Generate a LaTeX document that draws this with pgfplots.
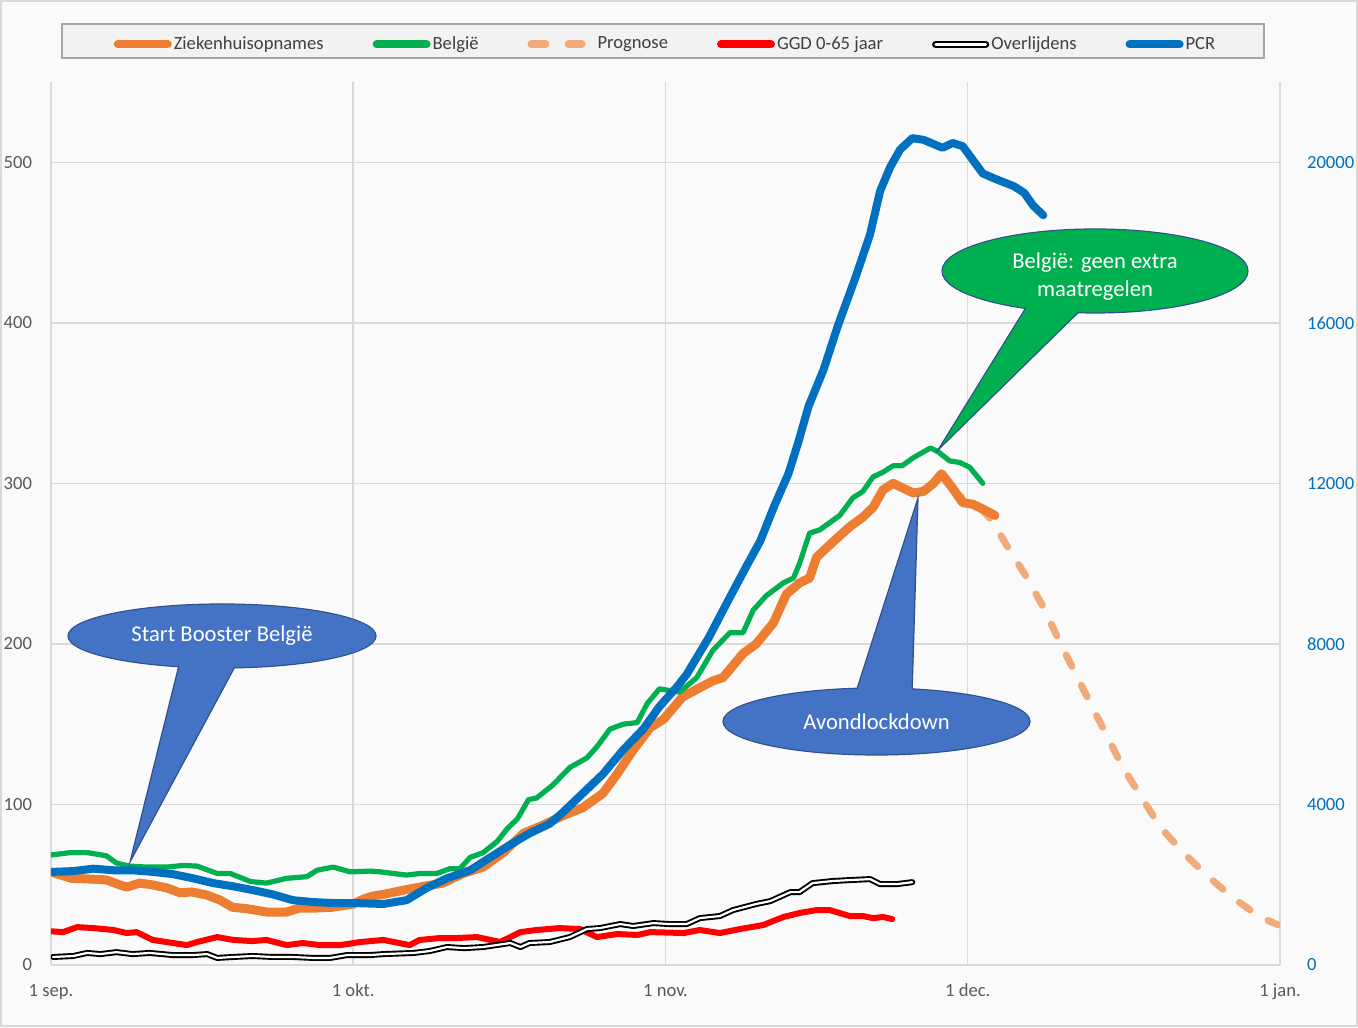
\documentclass[border=0pt]{standalone}
\usepackage{fontspec}
\setmainfont{Carlito}
\usepackage{pgfplots}
\pgfplotsset{compat=1.18}
\definecolor{cOrange}{HTML}{ED7D31}
\definecolor{cGreen}{HTML}{00B050}
\definecolor{cBlue}{HTML}{0070C0}
\definecolor{cRed}{HTML}{FF0000}
\definecolor{cProg}{HTML}{F1AB7A}
\definecolor{cGrid}{HTML}{D9D9D9}
\definecolor{cTick}{HTML}{595959}
\definecolor{cLegText}{HTML}{404040}
\definecolor{cBg}{HTML}{FAFAFA}
\definecolor{cCallBlue}{HTML}{4472C4}
\definecolor{cCallEdge}{HTML}{2F528F}
\definecolor{cLegFill}{HTML}{F2F2F2}
\definecolor{cLegEdge}{HTML}{A6A6A6}
\begin{document}
\begin{tikzpicture}
\useasboundingbox (-25.5pt,-31pt) rectangle (653.5pt,482.5pt);
\fill[cBg] (-25.5pt,-31pt) rectangle (653.5pt,482.5pt);
\draw[cGrid, line width=0.8pt] (-25.1pt,-30.6pt) rectangle (653.1pt,482.1pt);
\filldraw[fill=cLegFill, draw=cLegEdge, line width=1pt] (5.5pt,453.5pt) rectangle (606.5pt,470.5pt);
\begin{axis}[
  at={(0pt,0pt)}, anchor=south west,
  scale only axis, width=614.5pt, height=441.5pt,
  xmin=0, xmax=122, ymin=0, ymax=550,
  axis line style={draw=none}, major tick length=0pt,
  xtick={0,30,61,91,122},
  xticklabels={1 sep., 1 okt., 1 nov., 1 dec., 1 jan.},
  ytick={0,100,200,300,400,500},
  grid=major, major grid style={cGrid, line width=0.75pt},
  tick label style={font=\fontsize{9.3}{11}\selectfont, text=cTick},
  /pgf/number format/assume math mode=true,
  xticklabel style={yshift=-6pt},
  yticklabel style={xshift=-6pt},
  legend columns=6,
  legend style={at={(0.5,1.0425)}, anchor=center, draw=none, fill=none,
    font=\fontsize{9.3}{11}\selectfont, text=cLegText, nodes={inner sep=1pt},
    /tikz/every even column/.append style={column sep=23.5pt}},
  legend image code/.code={\draw[#1] (2pt,0pt) -- (27pt,0pt);},
  every axis plot/.append style={line join=round, line cap=round},
]
% Prognose
\addplot[cProg, line width=3.5pt, dash pattern=on 6.5pt off 10.5pt, forget plot] coordinates {
(89.5,296) (91,288) (92.5,283) (93.4,277) (94.9,261) (96.7,243) (98.5,223) (100,203)
(101.5,184) (103.1,164) (104.8,143) (106.4,123) (108.3,104) (110.1,86) (112.4,70)
(114.7,56) (117.3,42) (120,30) (121.8,25)};
% Ziekenhuisopnames
\addplot[cOrange, line width=4.5pt, forget plot] coordinates {
(0,58) (2,54) (4,53.5) (5.5,53) (6.8,50) (7.5,48.5) (8.8,51) (10,50) (11.5,48) (12.8,45)
(14,45.5) (15.5,43.5) (16.8,40.4) (18,36) (19.5,35) (21.4,33) (23.4,33) (24.7,35.5)
(26.4,35.5) (28,36) (30,38) (31,41) (32,43) (33,44) (35.3,47) (37,49) (38.9,51) (40.9,57)
(42.9,61) (44.9,70) (46.9,82) (48.8,87) (50.8,93) (52.8,98) (54.8,107) (56.2,119)
(57.8,134) (59.5,148) (60.8,153) (62.7,167) (65.7,177) (66.7,179) (68.7,194) (70,200)
(71.7,213) (73,231) (74.3,238) (75.3,241) (76,254) (77.7,264) (79.3,273) (80.6,279)
(81.6,285) (82.6,296) (83.6,300) (85.6,294) (86.6,295) (87.6,300) (88.4,306) (89.5,297)
(90.5,288) (91.5,287) (92.5,284) (93.7,280)};
% Belgie
\addplot[cGreen, line width=2.6pt, forget plot] coordinates {
(0,68.5) (1.9,70) (3.6,70) (5.5,68) (6.5,63.5) (7.8,61.6) (9.5,61) (11.5,61) (13.1,62)
(14.5,61.6) (16.5,57) (17.8,57) (19.8,52) (21.4,51) (23.4,54) (25.4,55) (26.4,59) (28,61)
(29.7,58) (31.7,58.5) (32.7,58) (35.3,56) (36.6,57) (38.3,57) (39.6,60) (40.6,60)
(41.6,67) (42.9,70) (44.3,77) (45.3,85) (46.3,91) (47.4,103) (48.2,104) (49.8,112)
(51.5,123) (53.2,129) (54.2,136) (55.5,147) (56.8,150) (58.2,151) (59.2,163) (60.4,172)
(62.4,170) (64.1,179) (65.7,196) (67.4,207) (68.7,207) (69.7,221) (71,230) (72.7,238)
(73.7,241) (74.3,250) (75.3,269) (76.3,271) (78.3,280) (79.6,291) (80.6,295) (81.6,304)
(82.6,307) (83.6,311) (84.5,311) (85.6,316) (87.3,322) (88,320) (89.2,314) (90.2,313)
(91.2,310) (92.5,300)};
% GGD 0-65
\addplot[cRed, line width=3pt, forget plot] coordinates {
(0,21) (1.2,20.5) (2.6,23.6) (4.2,23) (6.2,21.8) (7.5,19.9) (8.5,20.5) (10.1,15.6)
(12.1,13.7) (13.5,12.4) (14.5,14.3) (16.5,17.4) (18.1,15.6) (20,14.9) (21.4,15.6)
(23.4,12.4) (25,13.7) (26.7,12.4) (28.7,12.4) (30.7,14.3) (33,15.6) (35.6,12.4)
(36.6,15.6) (38.6,16.8) (40.3,16.8) (42.3,17.4) (44.6,14.3) (46.6,20.5) (48.2,21.8)
(50.5,23) (52.5,22.4) (54.2,17.4) (56.2,19.3) (58.2,18.7) (59.5,20.5) (62.8,19.9)
(64.4,21.8) (66.4,19.9) (68.4,22.4) (70.7,24.9) (72.7,29.9) (74.3,32.4) (76,34.2)
(77.3,34.2) (79.3,30.5) (80.6,30.5) (81.6,29.2) (82.6,29.9) (83.5,28.6)};
% Overlijdens
\addplot[black, line width=0.95pt, double=white, double distance=1.1pt, forget plot] coordinates {
(0.2,5) (2.2,5.6) (3.6,7.5) (4.9,6.8) (6.5,8) (8.1,6.8) (9.8,7.5) (12.1,6.2) (14.1,6.2)
(15.5,6.8) (16.5,4.4) (18.1,5) (20,5.6) (22,5) (24,5) (26,4.4) (27.7,4.4) (29.4,6.2)
(31.7,6.2) (33,6.8) (36,7.5) (37.6,8.7) (39.3,11.2) (41,10.5) (42.9,11.2) (45.6,13.7)
(46.6,11.2) (47.5,13.7) (49.5,14.3) (51.5,17.4) (53.2,22.4) (54.5,23) (56.5,25.5)
(57.8,24.3) (59.8,26.1) (61.4,25.5) (63.1,25.5) (64.4,29.2) (66.4,30.5) (67.7,34.2)
(70,38) (71.4,39.8) (73.4,45.4) (74.3,45.4) (75.6,51) (77.6,52.3) (79.3,52.9) (81.3,53.5)
(82.3,50.4) (84,50.4) (85.5,51.6)};
\addlegendimage{cOrange, line width=4pt, line cap=round}
\addlegendentry{Ziekenhuisopnames}
\addlegendimage{cGreen, line width=4pt, line cap=round}
\addlegendentry{België}
\addlegendimage{cProg, line width=4pt, line cap=round, dash pattern=on 7pt off 11.5pt}
\addlegendentry{\hspace{5pt}Prognose}
\addlegendimage{cRed, line width=4pt, line cap=round}
\addlegendentry{GGD 0-65 jaar}
\addlegendimage{black, line width=1.1pt, double=white, double distance=1.4pt, line cap=round}
\addlegendentry{Overlijdens}
\addlegendimage{cBlue, line width=4pt, line cap=round}
\addlegendentry{PCR}
\end{axis}
\begin{axis}[
  at={(0pt,0pt)}, anchor=south west,
  scale only axis, width=614.5pt, height=441.5pt,
  xmin=0, xmax=122, ymin=0, ymax=22000,
  axis x line=none, axis y line*=right,
  axis line style={draw=none}, major tick length=0pt,
  ytick={0,4000,8000,12000,16000,20000},
  scaled y ticks=false,
  yticklabel style={font=\fontsize{9.3}{11}\selectfont, text=cBlue, xshift=10pt},
  /pgf/number format/.cd, 1000 sep={}, assume math mode=true,
]
% PCR
\addplot[cBlue, line width=4pt, line join=round, line cap=round] coordinates {
(0.2,2320) (2.2,2340) (4.2,2400) (6.2,2360) (8.1,2360) (10.1,2320) (12.1,2264) (14.1,2160)
(16.1,2040) (18.1,1960) (20,1868) (22,1760) (24,1616) (26,1568) (28,1544) (30,1544)
(33,1520) (35.3,1616) (37.3,1920) (39.3,2160) (41.6,2360) (43.6,2680) (45.6,3000)
(47.5,3280) (49.5,3520) (50.8,3800) (52.8,4280) (54.8,4760) (56.8,5360) (58.8,5880)
(60.4,6440) (62.1,6920) (63.1,7240) (65.3,8160) (67.3,9120) (69,9920) (70.4,10560)
(71.8,11440) (73.2,12240) (74.2,13040) (75.2,13920) (76.7,14840) (78.1,15920)
(79.9,17160) (81.3,18200) (82.3,19280) (83.3,19880) (84.3,20320) (85.5,20600)
(86.6,20560) (88.5,20360) (89.5,20480) (90.5,20400) (92.5,19720) (93.6,19600)
(95.6,19400) (96.6,19240) (97.5,18920) (98.5,18680)};
\end{axis}
% callout 1
\filldraw[fill=cCallBlue, draw=cCallEdge, line width=0.6pt] (85.5pt,164.5pt) ellipse [x radius=77pt, y radius=16pt];
\filldraw[fill=cCallBlue, draw=cCallEdge, line width=0.6pt] (64.5pt,152pt) -- (39.5pt,51.5pt) -- (93.5pt,152pt) -- cycle;
\fill[cCallBlue] (85.5pt,164.5pt) ellipse [x radius=76.5pt, y radius=15.5pt];
\node[text=white, font=\fontsize{11.3}{14}\selectfont] at (85.5pt,164.5pt) {Start Booster België};
% callout 2
\filldraw[fill=cCallBlue, draw=cCallEdge, line width=0.6pt] (412.75pt,121.75pt) ellipse [x radius=76.75pt, y radius=16.75pt];
\filldraw[fill=cCallBlue, draw=cCallEdge, line width=0.6pt] (402pt,135pt) -- (433.5pt,233.5pt) -- (430.5pt,135pt) -- cycle;
\fill[cCallBlue] (412.75pt,121.75pt) ellipse [x radius=76.25pt, y radius=16.25pt];
\node[text=white, font=\fontsize{11.3}{14}\selectfont] at (412.75pt,121.75pt) {Avondlockdown};
% callout 3
\filldraw[fill=cGreen, draw=cCallEdge, line width=0.6pt] (522pt,347pt) ellipse [x radius=76.5pt, y radius=21pt];
\filldraw[fill=cGreen, draw=cCallEdge, line width=0.6pt] (489.5pt,332pt) -- (443.5pt,257.5pt) -- (519.5pt,332pt) -- cycle;
\fill[cGreen] (522pt,347pt) ellipse [x radius=76pt, y radius=20.5pt];
\node[text=white, font=\fontsize{11.3}{14}\selectfont, align=center] at (522pt,344pt) {België: geen extra\\maatregelen};
\end{tikzpicture}
\end{document}
